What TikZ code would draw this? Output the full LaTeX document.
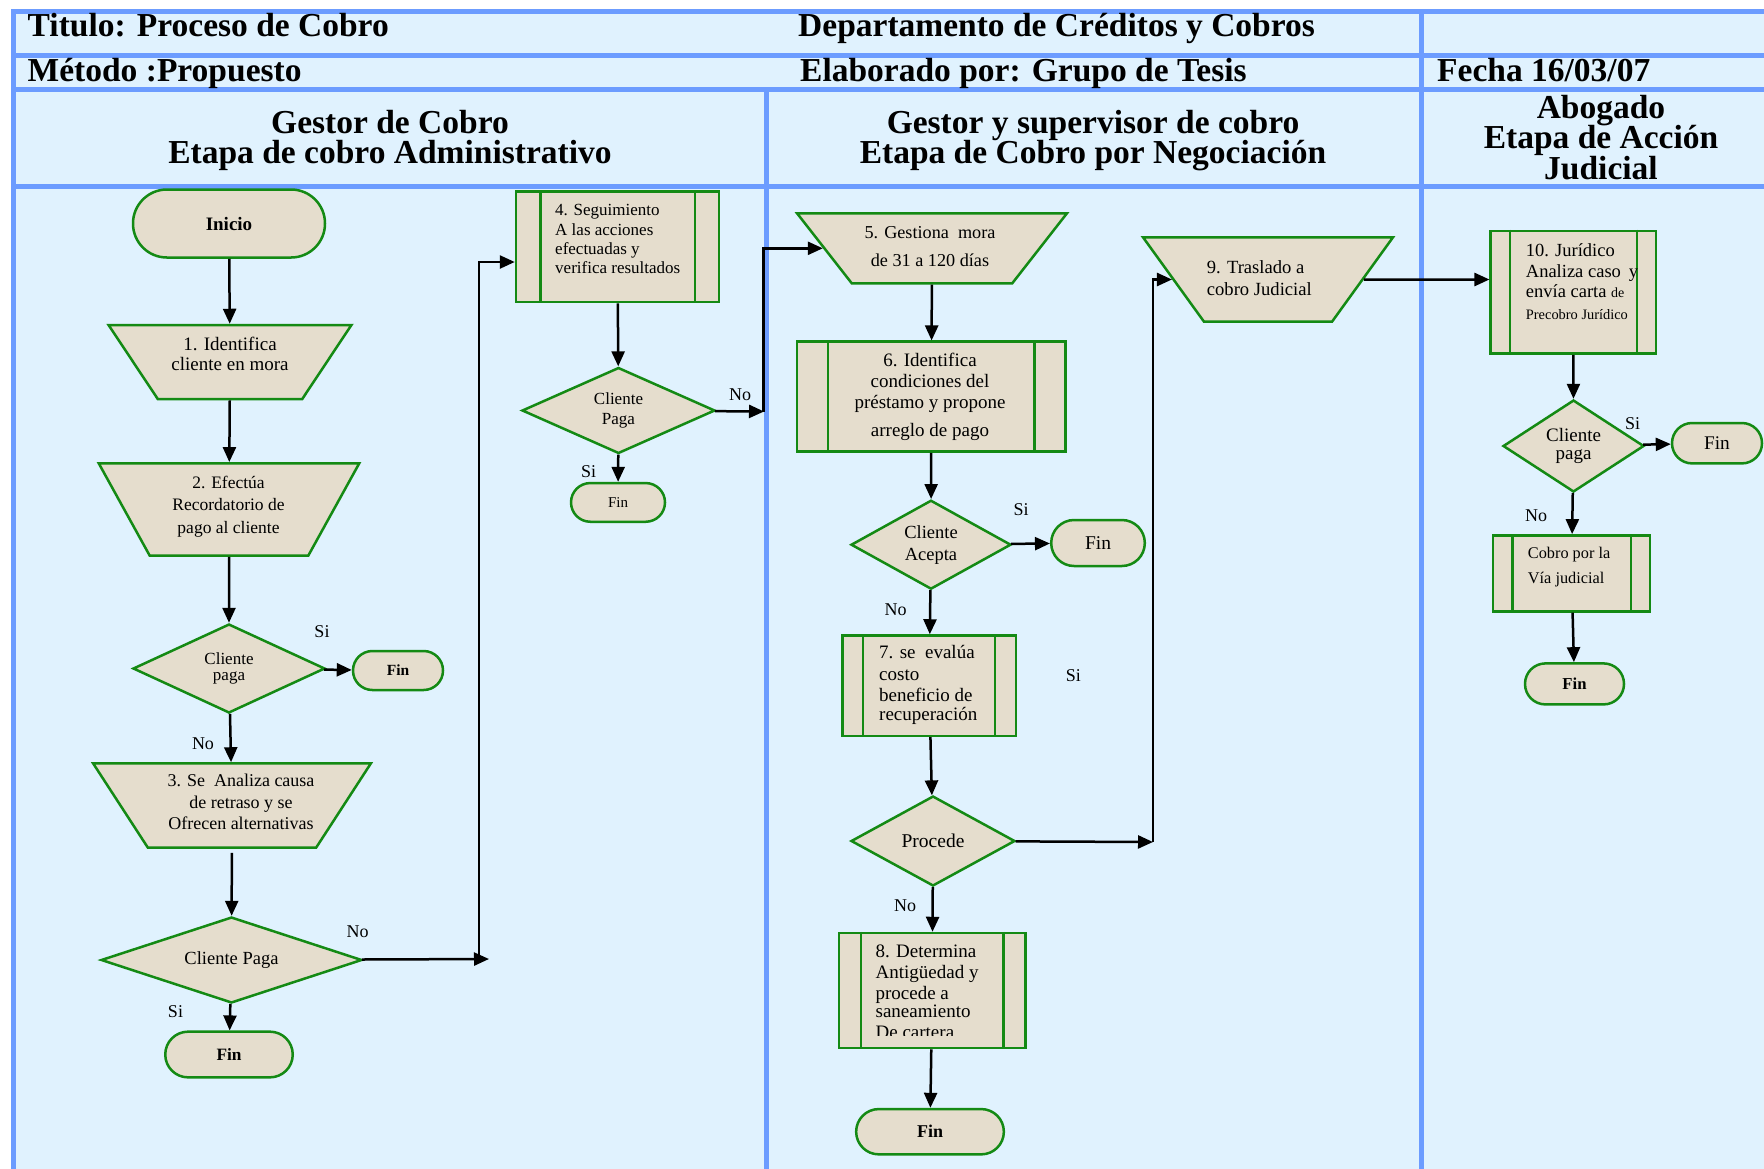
\documentclass[tikz,border=0pt]{standalone}
\usepackage{fontspec}
\setmainfont{Liberation Serif}
\usetikzlibrary{shapes.geometric,arrows.meta}

\definecolor{lanebg}{HTML}{E0F2FE}
\definecolor{laneline}{HTML}{6C9CFF}
\definecolor{boxfill}{HTML}{E5DDCD}
\definecolor{boxline}{HTML}{148A14}

% font size and line spacing together
\newcommand\fsz[2]{\fontsize{#1}{#2}\selectfont}
% stacked lines (centred / flush left); reference point = first baseline,
% lines always exactly \baselineskip apart
\newcommand\linesc[1]{{\lineskiplimit=-\maxdimen\vtop{\let\\\cr\halign{\hfil##\hfil\cr#1\crcr}}}}
\newcommand\linesl[1]{{\lineskiplimit=-\maxdimen\vtop{\let\\\cr\halign{##\hfil\cr#1\crcr}}}}
% the two inner rules of a predefined-process box
\newcommand\procbars[2]{%
  \draw[boxline,line width=2.5pt]
    ([xshift=#2]#1.north west) -- ([xshift=#2]#1.south west)
    ([xshift=-#2]#1.north east) -- ([xshift=-#2]#1.south east);}

\begin{document}
\begin{tikzpicture}[x=1pt,y=-1pt,
  shapebase/.style={draw=boxline,fill=boxfill,line width=2.5pt,inner sep=0pt},
  term/.style={shapebase,rectangle,rounded corners=#1},
  proc/.style={shapebase,rectangle},
  trap/.style={shapebase,trapezium,shape border rotate=180,text depth=0pt},
  dia/.style={shapebase,diamond,aspect=1.6},
  txt/.style={inner sep=0pt},
  lbl/.style={inner sep=0pt,font=\fsz{18}{20}},
  head/.style={inner sep=0pt,font=\bfseries\fsz{33.5}{30.5}},
  lanerule/.style={laneline,line width=5pt},
  flow/.style={line width=2.5pt,-{Triangle[length=15pt,width=13pt]}},
]
\useasboundingbox (0,0) rectangle (1764,1168);
\clip (0,0) rectangle (1764,1168);

% ---------------- table background and rules ----------------
\fill[lanebg] (13.5,11.5) rectangle (1800,1200);
\draw[lanerule] (13.5,1200) -- (13.5,11.5) -- (1800,11.5);
\draw[lanerule] (13.5,55) -- (1800,55);
\draw[lanerule] (13.5,89.5) -- (1800,89.5);
\draw[lanerule] (13.5,186.5) -- (1800,186.5);
\draw[lanerule] (766,89.5) -- (766,1200);
\draw[lanerule] (1421,11.5) -- (1421,1200);

% ---------------- header cells ----------------
\node[head,anchor=base west] (title) at (27.5,36.5) {Titulo: Proceso de Cobro};
\node[head,anchor=base west] (dept) at (798,36.5) {Departamento de Créditos y Cobros};
\node[head,anchor=base west] (metodo) at (27.5,81.5) {Método :Propuesto};
\node[head,anchor=base west] (autor) at (800,81.5) {Elaborado por: Grupo de Tesis};
\node[head,anchor=base west] (fecha) at (1437,81.5) {Fecha 16/03/07};
\node[head,anchor=base] (lane1) at (390,133) {\linesc{Gestor de Cobro\\Etapa de cobro Administrativo}};
\node[head,anchor=base] (lane2) at (1093,133) {\linesc{Gestor y supervisor de cobro\\Etapa de Cobro por Negociación}};
\node[head,anchor=base] (lane3) at (1601,118) {\linesc{Abogado\\Etapa de Acción\\Judicial}};

% ---------------- lane 1: cobro administrativo ----------------
\node[term=33.9pt,minimum width=192pt,minimum height=68pt,font=\bfseries\fsz{19}{21}] (inicio) at (229,223.5) {Inicio};
\node[trap,trapezium angle=56.4,text width=144.5pt,text height=74pt] (n1) at (230,362) {};
\node[txt,anchor=base,font=\fsz{19}{20}] (t1) at (230,350) {\linesc{1. Identifica\\cliente en mora}};
\node[trap,trapezium angle=61.1,text width=158.5pt,text height=92.4pt] (n2) at (229,509.5) {};
\node[txt,anchor=base,font=\fsz{17.5}{22.5}] (t2) at (228.5,488.3) {\linesc{2. Efectúa\\Recordatorio de\\pago al cliente}};
\node[dia,minimum width=192pt,minimum height=89pt,font=\fsz{17}{16.5}] (d1) at (229,668.5) {\linesc{Cliente\\paga}};
\node[term=19.4pt,minimum width=90pt,minimum height=39pt,font=\bfseries\fsz{15.5}{17}] (f1) at (398,670.5) {Fin};
\node[trap,trapezium angle=57.0,text width=168.4pt,text height=84.1pt] (n3) at (232,805.5) {};
\node[txt,anchor=base,font=\fsz{18}{21.5}] (t3) at (241,786.7) {\linesc{3. Se~ Analiza causa\\de retraso y se\\Ofrecen alternativas}};
\node[dia,minimum width=261pt,minimum height=86pt,font=\fsz{18.5}{20}] (d2) at (231.5,960) {Cliente Paga};
\node[term=22.8pt,minimum width=127.5pt,minimum height=45.7pt,font=\bfseries\fsz{17.3}{19}] (f2) at (229,1054.5) {Fin};

\node[proc,minimum width=203pt,minimum height=110.3pt] (b4) at (617.5,246.85) {};
\procbars{b4}{25.5pt}
\node[txt,anchor=base west,font=\fsz{17}{19.4}] (t4) at (555,215.7) {\linesl{4. Seguimiento\\A las acciones\\efectuadas y\\verifica resultados}};
\node[dia,minimum width=193pt,minimum height=86pt,font=\fsz{17}{20}] (d4) at (618.5,410.5) {\linesc{Cliente\\Paga}};
\node[term=19.3pt,minimum width=94pt,minimum height=38.7pt,font=\fsz{15}{17}] (f4) at (618,502.4) {Fin};

% ---------------- lane 2: cobro por negociación ----------------
\node[trap,trapezium angle=52.0,text width=160.5pt,text height=70pt] (n5) at (932,248.3) {};
\node[txt,anchor=base,font=\fsz{18.2}{27.7}] (t5) at (930,238.3) {\linesc{5. Gestiona~ mora\\de 31 a 120 días}};
\node[proc,minimum width=268.7pt,minimum height=110pt] (b6) at (931.35,396.7) {};
\procbars{b6}{32.4pt}
\node[txt,anchor=base,font=\fsz{19}{21}] (t6) at (930,366) {\linesc{6. Identifica\\condiciones del\\préstamo y propone\\\noalign{\vskip7pt}arreglo de pago}};
\node[dia,minimum width=160pt,minimum height=89pt,font=\fsz{18.5}{21.7}] (d6) at (931,544.7) {\linesc{Cliente\\Acepta}};
\node[term=22.9pt,minimum width=93.6pt,minimum height=46pt,font=\fsz{19.5}{21}] (f6) at (1098,543) {Fin};
\node[proc,minimum width=173.5pt,minimum height=100.4pt] (b7) at (929.15,685.7) {};
\procbars{b7}{22pt}
\node[txt,anchor=base west,font=\fsz{19}{21.7}] (t7) at (879,658.5) {\linesl{7. se~ evalúa\\costo\\beneficio de\\\noalign{\vskip-3.5pt}recuperación}};
\node[dia,minimum width=164pt,minimum height=90pt,font=\fsz{19.5}{21}] (d7) at (933,841) {Procede};
\node[proc,minimum width=186.4pt,minimum height=115pt] (b8) at (932.2,990.5) {};
\procbars{b8}{23pt}
\begin{scope}
  \clip (839,930) rectangle (1026,1035.5);
  \node[txt,anchor=base west,font=\fsz{19}{21}] (t8) at (875.4,957) {\linesl{8. Determina\\Antigüedad y\\procede a\\\noalign{\vskip-3pt}saneamiento\\De cartera}};
\end{scope}
\node[term=22.6pt,minimum width=147.7pt,minimum height=45.3pt,font=\bfseries\fsz{18}{20}] (f8) at (930,1131.7) {Fin};
\node[trap,trapezium angle=54.15,text width=128pt,text height=84.4pt] (n9) at (1268,279.5) {};
\node[txt,anchor=base west,font=\fsz{18.6}{22.3}] (t9) at (1206.7,273.3) {\linesl{9. Traslado a\\cobro Judicial}};

% ---------------- lane 3: acción judicial ----------------
\node[proc,minimum width=165.3pt,minimum height=122.7pt] (b10) at (1573.35,292.25) {};
\procbars{b10}{20.3pt}
\node[txt,anchor=base west,font=\fsz{18.5}{20.5}] (t10) at (1525.7,256.5) {\linesl{10. Jurídico\\Analiza caso\hspace{8pt}y\\envía carta {\fsz{14}{20}de}\\\noalign{\vskip1.6pt}{\fsz{14.4}{20}Precobro Jurídico}}};
\node[dia,minimum width=141pt,minimum height=92pt,font=\fsz{19}{17.6}] (d10) at (1573.5,446) {\linesc{Cliente\\paga}};
\node[term=20.1pt,minimum width=90pt,minimum height=40.4pt,font=\fsz{19.3}{21}] (f10) at (1717,443.2) {Fin};
\node[proc,minimum width=157pt,minimum height=76pt] (b11) at (1571.5,573.35) {};
\procbars{b11}{20.5pt}
\node[txt,anchor=base west,font=\fsz{16.3}{25}] (t11) at (1527.7,558) {\linesl{Cobro por la\\Vía judicial}};
\node[term=20.4pt,minimum width=99pt,minimum height=41pt,font=\bfseries\fsz{16.7}{18}] (f11) at (1574.5,683.9) {Fin};

% ---------------- branch labels ----------------
\node[lbl] (l1) at (322,632) {Si};
\node[lbl] (l2) at (203,744) {No};
\node[lbl] (l3) at (357.5,932) {No};
\node[lbl] (l4) at (175.5,1012) {Si};
\node[lbl] (l5) at (740,394.5) {No};
\node[lbl] (l6) at (588.5,471.5) {Si};
\node[lbl] (l7) at (1021,510) {Si};
\node[lbl] (l8) at (895.5,610) {No};
\node[lbl] (l9) at (1073.4,676) {Si};
\node[lbl] (l10) at (905,906) {No};
\node[lbl] (l11) at (1632.5,424) {Si};
\node[lbl] (l12) at (1536,516) {No};

% ---------------- connectors ----------------
\draw[flow] (inicio) -- (n1);
\draw[flow] (n1) -- (n2);
\draw[flow] (n2) -- (d1);
\draw[flow] (d1) -- (f1);
\draw[flow] (d1) -- (n3);
\draw[flow,shorten <=4pt] (n3) -- (d2);
\draw[flow] (d2) -- (f2);
\coordinate (a1) at (489,959);
\draw[flow] (d2) -- (a1);
\coordinate (a2) at (479,959);
\coordinate (a3) at (479,262);
\draw[flow] (a2) -- (a3) -- (a3 -| b4.west);
\draw[flow] (b4) -- (d4);
\draw[flow] (d4) -- (f4);
\coordinate (a4) at (764,411.5);
\draw[flow] (d4) -- (a4);
\coordinate (a5) at (763.5,411.5);
\draw[flow] (a5) |- (n5);

\draw[flow] (n5) -- (b6);
\draw[flow] (b6) -- (d6);
\draw[flow] (d6) -- (f6);
\draw[flow] (d6) -- (b7);
\draw[flow] (b7) -- (d7);
\coordinate (a6) at (1153,842);
\draw[flow] (d7) -- (a6);
\draw[flow] (a6) |- (n9);
\draw[flow] (d7) -- (b8);
\draw[flow] (b8) -- (f8);

\draw[flow] (n9) -- (n9 -| b10.west);
\draw[flow] (b10) -- (d10);
\draw[flow] (d10) -- (f10);
\draw[flow] (d10) -- (b11);
\draw[flow] (b11) -- (f11);
\end{tikzpicture}
\end{document}
